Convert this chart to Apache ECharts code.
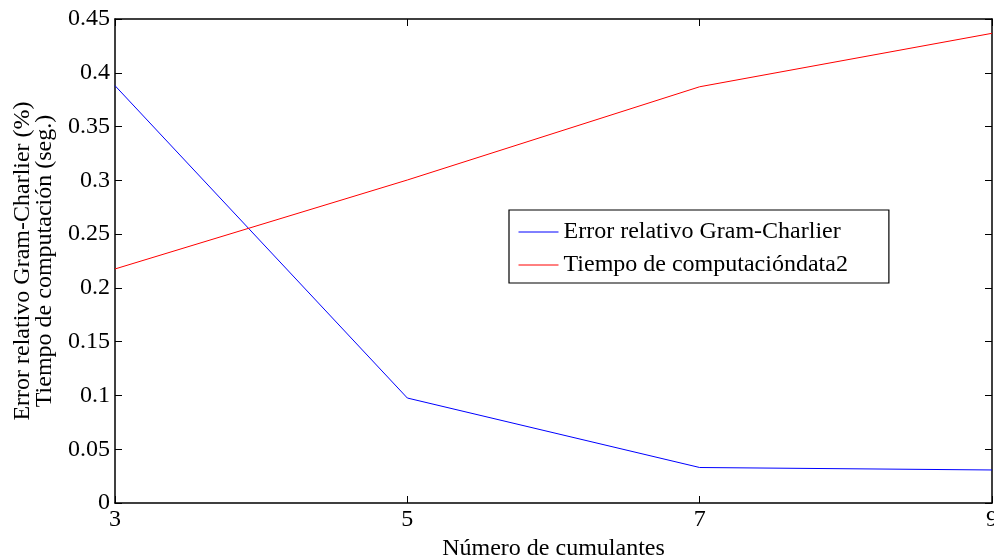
<!DOCTYPE html>
<html><head><meta charset="utf-8">
<script src="https://cdn.jsdelivr.net/npm/echarts@6/dist/echarts.min.js"></script>
<style>html,body{margin:0;padding:0;background:#fff}#c{width:994px;height:555px}</style>
</head><body><div id="c"></div>
<script>
const categories = [3, 5, 7, 9];
const errorGC = [0.388, 0.0976, 0.033, 0.0307];
const tiempo = [0.2176, 0.3003, 0.387, 0.4367];
const seriesNames = ['Error relativo Gram-Charlier', 'Tiempo de computacióndata2'];
const xName = 'Número de cumulantes';
const yName1 = 'Error relativo Gram-Charlier (%)';
const yName2 = 'Tiempo de computación (seg.)';

const FONT = 'Liberation Serif';
const FS = 24;
const chart = echarts.init(document.getElementById('c'));
const fmt = v => String(Math.round(v * 100) / 100);
const axisLine = {show: true, onZero: false, lineStyle: {color: '#000', width: 1.5}};
const tick = {show: true, inside: true, length: 7, lineStyle: {color: '#000', width: 1}};
chart.setOption({
  animation: false,
  backgroundColor: '#fff',
  grid: {left: 115, right: 2, top: 19, bottom: 52, containLabel: false, outerBoundsMode: 'none'},
  xAxis: [
    {type: 'value', min: 3, max: 9, interval: 2, axisLine, axisTick: tick, splitLine: {show: false},
     axisLabel: {color: '#000', fontFamily: FONT, fontSize: FS, margin: 5, hideOverlap: false},
     name: xName, nameLocation: 'middle', nameGap: 30,
     nameTextStyle: {color: '#000', fontFamily: FONT, fontSize: FS}},
    {type: 'value', position: 'top', min: 3, max: 9, interval: 2, axisLine, axisTick: tick,
     axisLabel: {show: false}, splitLine: {show: false}}
  ],
  yAxis: [
    {type: 'value', min: 0, max: 0.45, interval: 0.05, axisLine, axisTick: tick, splitLine: {show: false},
     axisLabel: {color: '#000', fontFamily: FONT, fontSize: FS, margin: 5, formatter: fmt, hideOverlap: false}},
    {type: 'value', position: 'right', min: 0, max: 0.45, interval: 0.05, axisLine, axisTick: tick,
     axisLabel: {show: false}, splitLine: {show: false}}
  ],
  legend: {
    left: 509, top: 210, orient: 'vertical',
    backgroundColor: '#fff', borderColor: '#000', borderWidth: 1.2,
    padding: [10, 41, 6, 9], itemGap: 9, itemWidth: 40, itemHeight: 14,
    itemStyle: {opacity: 0},
    lineStyle: {width: 1},
    textStyle: {color: '#000', fontFamily: FONT, fontSize: FS},
    data: seriesNames
  },
  graphic: [
    {type: 'text', x: 23, y: 261, rotation: Math.PI / 2,
     style: {text: yName1, fontFamily: FONT, fontSize: FS, fill: '#000', align: 'center', verticalAlign: 'middle'}},
    {type: 'text', x: 45, y: 261, rotation: Math.PI / 2,
     style: {text: yName2, fontFamily: FONT, fontSize: FS, fill: '#000', align: 'center', verticalAlign: 'middle'}}
  ],
  series: [
    {name: seriesNames[0], type: 'line', symbol: 'none', data: categories.map((c, i) => [c, errorGC[i]]),
     lineStyle: {color: '#0000ff', width: 1}, itemStyle: {color: '#0000ff'}},
    {name: seriesNames[1], type: 'line', symbol: 'none', data: categories.map((c, i) => [c, tiempo[i]]),
     lineStyle: {color: '#ff0000', width: 1}, itemStyle: {color: '#ff0000'}}
  ]
});
</script></body></html>
